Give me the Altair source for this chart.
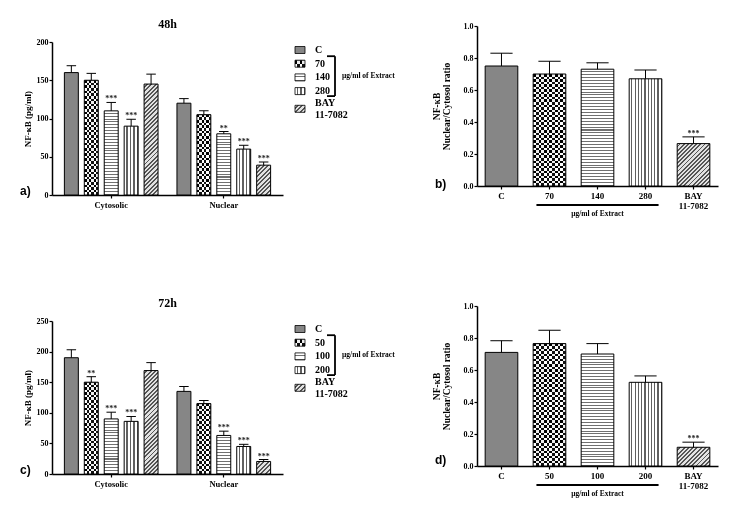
import altair as alt
import pandas as pd

SERIF = "Liberation Serif"
SANS = "Liberation Sans"

# ---------------- data ----------------
groups = ["Cytosolic", "Nuclear"]

cats_48 = ["C", "70", "140", "280", "BAY 11-7082"]
cyto_48 = [160, 150, 110, 90, 145]
cyto_48_err = [9, 9, 11, 9, 13]
cyto_48_sig = ["", "", "***", "***", ""]
nuc_48 = [120, 105, 80, 60, 39]
nuc_48_err = [6, 5, 3, 5, 4]
nuc_48_sig = ["", "", "**", "***", "***"]

cats_72 = ["C", "50", "100", "200", "BAY 11-7082"]
cyto_72 = [190, 150, 90, 86, 169]
cyto_72_err = [13, 9, 11, 8, 13]
cyto_72_sig = ["", "**", "***", "***", ""]
nuc_72 = [135, 115, 63, 45, 20.5]
nuc_72_err = [8, 5, 7, 3.5, 3]
nuc_72_sig = ["", "", "***", "***", "***"]

ratio_48 = [0.75, 0.70, 0.73, 0.67, 0.265]
ratio_48_err = [0.08, 0.08, 0.04, 0.055, 0.042]
ratio_48_sig = ["", "", "", "", "***"]

ratio_72 = [0.71, 0.765, 0.70, 0.523, 0.117]
ratio_72_err = [0.073, 0.083, 0.065, 0.04, 0.032]
ratio_72_sig = ["", "", "", "", "***"]

legend_lines = {"BAY 11-7082": ["BAY", "11-7082"]}
extract_label = "µg/ml of Extract"

# ---------------- layout / style ----------------
PW_G, PH_G = 231, 153
PW_R, PH_R = 241, 160
G_PI, G_PO = 0.168, 0.11
O_PI = 0.3
R_PI, R_PO = 0.32, 0.17
PATTERNS = ["solid", "check", "hline", "vline", "diag"]
NO_VIEW = alt.ViewBackground(strokeWidth=0, strokeOpacity=0)


def band_width(total, n, pi, po):
    step = total / (n - pi + 2 * po)
    return step * (1 - pi)


def stripes(n, frac, bg, fg, x2, y2):
    n = max(1, int(round(n)))
    stops = []
    for k in range(n):
        a = k / n
        b = (k + 1 - frac) / n
        c = (k + 1) / n
        stops += [
            alt.GradientStop(offset=a, color=bg),
            alt.GradientStop(offset=b, color=bg),
            alt.GradientStop(offset=b, color=fg),
            alt.GradientStop(offset=c, color=fg),
        ]
    return alt.LinearGradient(gradient="linear", stops=stops, x1=0, y1=0, x2=x2, y2=y2)


def fills(kind, W, H):
    H = max(H, 1.0)
    if kind == "solid":
        return [("#868686", None)]
    if kind == "check":
        return [
            (stripes(W / 5.2, 0.5, "#ffffff", "#111111", 1, 0), None),
            (stripes(H / 5.2, 0.5, "#ffffff", "#000000", 0, 1), "difference"),
        ]
    if kind == "hline":
        return [(stripes(H / 2.9, 0.35, "#ffffff", "#707070", 0, 1), None)]
    if kind == "vline":
        return [(stripes(W / 3.4, 0.35, "#ffffff", "#606060", 1, 0), None)]
    r = H / W
    c = (1 + r) / (1 + r * r)
    n = (W + H) / (3.0 * 1.414)
    return [(stripes(n, 0.45, "#e2e2e2", "#555555", c, c * r), None)]


def axis_common(**kw):
    base = dict(
        labelFont=SERIF, labelFontWeight="bold", labelFontSize=8.5, labelColor="black",
        tickColor="black", tickSize=3, tickWidth=1.2, domainColor="black", domainWidth=1.5,
        grid=False, titleFont=SERIF, titleFontWeight="bold", titleColor="black",
    )
    base.update(kw)
    return alt.Axis(**base)


def one(**kw):
    return pd.DataFrame([kw])


def letter_layer(letter, x, y):
    return alt.Chart(one(t=letter)).mark_text(
        font=SANS, fontWeight="bold", fontSize=12, align="left", baseline="middle", color="black"
    ).encode(x=alt.value(x), y=alt.value(y), text="t:N")


def legend_layers(cats):
    layers = []
    lx = PW_G + 12
    y0, dy = 8, 13.7
    ys = []
    for i, c in enumerate(cats):
        yc = y0 + i * dy + (4 if i == len(cats) - 1 else 0)
        ys.append(yc)
        for f, blend in fills(PATTERNS[i], 10, 7):
            kw = dict(fill=f, strokeWidth=0)
            if blend:
                kw["blend"] = blend
            layers.append(alt.Chart(one(a=0)).mark_rect(**kw).encode(
                x=alt.value(lx), x2=alt.value(lx + 10), y=alt.value(yc - 3.5), y2=alt.value(yc + 3.5)))
        layers.append(alt.Chart(one(a=0)).mark_rect(fillOpacity=0, stroke="black", strokeWidth=0.8).encode(
            x=alt.value(lx), x2=alt.value(lx + 10), y=alt.value(yc - 3.5), y2=alt.value(yc + 3.5)))
        lines = legend_lines.get(c, [c])
        for j, ln in enumerate(lines):
            ly = yc + (j - (len(lines) - 1) / 2) * 12
            layers.append(alt.Chart(one(t=ln)).mark_text(
                font=SERIF, fontWeight="bold", fontSize=10, align="left", baseline="middle", color="black"
            ).encode(x=alt.value(lx + 20), y=alt.value(ly), text="t:N"))
    bx = lx + 40
    top, bot = ys[1] - 7.5, ys[3] + 5
    layers.append(alt.Chart(one(a=0)).mark_rule(color="black", strokeWidth=1.8).encode(
        x=alt.value(bx), y=alt.value(top), y2=alt.value(bot)))
    for yy in (top, bot):
        layers.append(alt.Chart(one(a=0)).mark_rule(color="black", strokeWidth=1.8).encode(
            x=alt.value(bx - 8), x2=alt.value(bx), y=alt.value(yy)))
    layers.append(alt.Chart(one(t=extract_label)).mark_text(
        font=SERIF, fontWeight="bold", fontSize=7.5, align="left", baseline="middle", color="black"
    ).encode(x=alt.value(bx + 7), y=alt.value((top + bot) / 2), text="t:N"))
    return layers


def grouped_panel(title, cats, cyto, cyto_err, cyto_sig, nuc, nuc_err, nuc_sig, ymax, ystep, letter):
    rows = []
    for g, vals, errs, sigs in [("Cytosolic", cyto, cyto_err, cyto_sig), ("Nuclear", nuc, nuc_err, nuc_sig)]:
        for c, v, e, s in zip(cats, vals, errs, sigs):
            rows.append({"group": g, "cat": c, "value": v, "hi": v + e, "sig": s})
    df = pd.DataFrame(rows)
    xenc = alt.X("group:N", scale=alt.Scale(domain=groups, paddingInner=G_PI, paddingOuter=G_PO),
                 axis=axis_common(title=None, labelAngle=0, labelPadding=2, labelFontSize=8.5))
    xoff = alt.XOffset("cat:N", scale=alt.Scale(domain=cats, paddingInner=O_PI, paddingOuter=0))
    yscale = alt.Scale(domain=[0, ymax], nice=False)
    yaxis = axis_common(values=list(range(0, ymax + 1, ystep)), title="NF-κB (pg/ml)",
                        titleFontSize=9, titlePadding=4, labelPadding=1, labelFontSize=8)

    def Y(f):
        return alt.Y(f"{f}:Q", scale=yscale, axis=yaxis)

    W = band_width(band_width(PW_G, 2, G_PI, G_PO), len(cats), O_PI, 0)
    layers = []
    for r in rows:
        kind = PATTERNS[cats.index(r["cat"])]
        H = r["value"] / ymax * PH_G
        rdf = pd.DataFrame([r])
        for f, blend in fills(kind, W, H):
            kw = dict(fill=f, strokeWidth=0)
            if blend:
                kw["blend"] = blend
            layers.append(alt.Chart(rdf).mark_bar(**kw).encode(x=xenc, xOffset=xoff, y=Y("value")))
    layers.append(alt.Chart(df).mark_bar(fillOpacity=0, stroke="black", strokeWidth=1).encode(
        x=xenc, xOffset=xoff, y=Y("value")))
    layers.append(alt.Chart(df).mark_rule(color="black", strokeWidth=1).encode(
        x=xenc, xOffset=xoff, y=Y("value"), y2="hi:Q"))
    layers.append(alt.Chart(df).mark_tick(orient="horizontal", size=W * 0.68, thickness=1,
                                          color="black", opacity=1).encode(x=xenc, xOffset=xoff, y=Y("hi")))
    layers.append(alt.Chart(df).mark_text(font=SERIF, fontWeight="bold", fontSize=8, baseline="bottom",
                                          dy=1, color="#222222").encode(
        x=xenc, xOffset=xoff, y=Y("hi"), text="sig:N"))
    layers.append(letter_layer(letter, -32, PH_G - 4))
    layers += legend_layers(cats)
    return alt.layer(*layers).properties(
        width=PW_G, height=PH_G, view=NO_VIEW,
        title=alt.TitleParams(title, font=SERIF, fontWeight="bold", fontSize=12, color="black",
                              anchor="middle", frame="group", offset=7),
    )


def ratio_panel(cats, vals, errs, sigs, letter, lift=0, letter_dy=0):
    rows = [{"cat": c, "value": v, "hi": v + e, "sig": s} for c, v, e, s in zip(cats, vals, errs, sigs)]
    df = pd.DataFrame(rows)
    gh = PH_R - lift  # group height; plot area spans [-lift, gh]
    xscale = alt.Scale(domain=cats, paddingInner=R_PI, paddingOuter=R_PO)
    xaxis = axis_common(title=None, labelAngle=0, labelPadding=2, labelFontSize=9, labelLineHeight=10,
                        labelExpr="datum.value == 'BAY 11-7082' ? ['BAY', '11-7082'] : datum.label")
    xenc = alt.X("cat:N", scale=xscale, axis=xaxis)
    yscale = alt.Scale(domain=[0, 1], nice=False, range=[gh, -lift])
    yaxis = axis_common(values=[0, 0.2, 0.4, 0.6, 0.8, 1.0], format=".1f",
                        title=["NF-κB", "Nuclear/Cytosol ratio"], titleFontSize=9.5, titleLineHeight=10,
                        titlePadding=12, labelPadding=1, labelFontSize=8)

    def Y(f):
        return alt.Y(f"{f}:Q", scale=yscale, axis=yaxis)

    W = band_width(PW_R, len(cats), R_PI, R_PO)
    layers = []
    for r in rows:
        kind = PATTERNS[cats.index(r["cat"])]
        H = r["value"] * PH_R
        rdf = pd.DataFrame([r])
        for f, blend in fills(kind, W, H):
            kw = dict(fill=f, strokeWidth=0)
            if blend:
                kw["blend"] = blend
            layers.append(alt.Chart(rdf).mark_bar(**kw).encode(x=xenc, y=Y("value")))
    layers.append(alt.Chart(df).mark_bar(fillOpacity=0, stroke="black", strokeWidth=1).encode(
        x=xenc, y=Y("value")))
    layers.append(alt.Chart(df).mark_rule(color="black", strokeWidth=1).encode(
        x=xenc, y=Y("value"), y2="hi:Q"))
    layers.append(alt.Chart(df).mark_tick(orient="horizontal", size=W * 0.68, thickness=1,
                                          color="black", opacity=1).encode(x=xenc, y=Y("hi")))
    layers.append(alt.Chart(df).mark_text(font=SERIF, fontWeight="bold", fontSize=8, baseline="bottom",
                                          dy=1, color="#222222").encode(x=xenc, y=Y("hi"), text="sig:N"))
    layers.append(alt.Chart(one(s=cats[1], e=cats[3])).mark_rule(color="black", strokeWidth=1.8).encode(
        x=alt.X("s:N", bandPosition=0.1, scale=xscale, axis=xaxis),
        x2=alt.X2("e:N", bandPosition=0.9),
        y=alt.value(gh + 19)))
    layers.append(alt.Chart(one(cat=cats[2], t=extract_label)).mark_text(
        font=SERIF, fontWeight="bold", fontSize=7.5, baseline="middle", color="black").encode(
        x=xenc, y=alt.value(gh + 28), text="t:N"))
    layers.append(letter_layer(letter, -42, gh - 2 + letter_dy))
    return alt.layer(*layers).properties(width=PW_R, height=gh, view=NO_VIEW)


a = grouped_panel("48h", cats_48, cyto_48, cyto_48_err, cyto_48_sig, nuc_48, nuc_48_err, nuc_48_sig, 200, 50, "a)")
c = grouped_panel("72h", cats_72, cyto_72, cyto_72_err, cyto_72_sig, nuc_72, nuc_72_err, nuc_72_sig, 250, 50, "c)")
b = ratio_panel(cats_48, ratio_48, ratio_48_err, ratio_48_sig, "b)", lift=16)
d = ratio_panel(cats_72, ratio_72, ratio_72_err, ratio_72_sig, "d)", letter_dy=-4)

RES = dict(x="independent", y="independent", xOffset="independent")
col1 = alt.vconcat(a, c, spacing=88).resolve_scale(**RES)
col2 = alt.vconcat(b, d, spacing=84).resolve_scale(**RES)

chart = alt.concat(col1, col2, columns=2, align="none", spacing=36).resolve_scale(**RES).properties(
    padding={"left": 12, "top": 10, "right": 5, "bottom": 5}
).configure_view(strokeWidth=0, strokeOpacity=0).configure(background="white")

chart.save("out.html", embed_options={"renderer": "svg", "actions": False})
